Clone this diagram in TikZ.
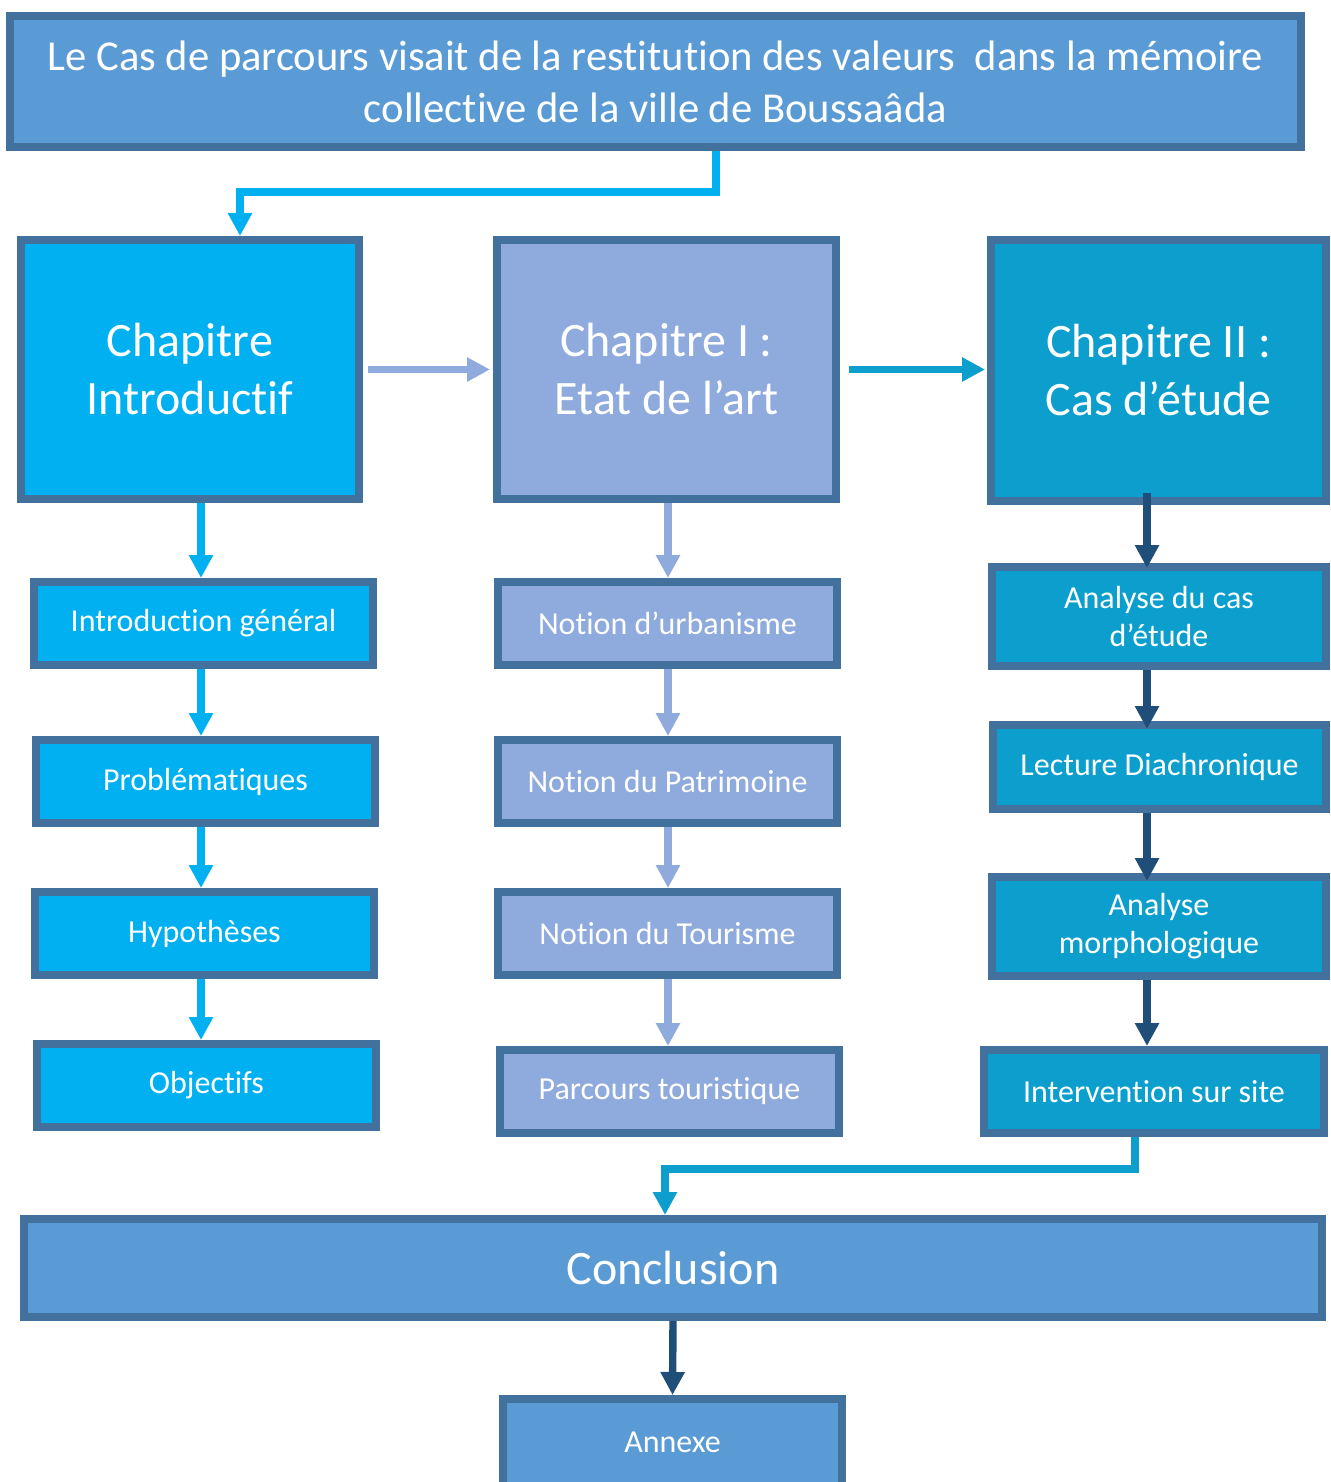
\documentclass[tikz,border=0pt]{standalone}
\usepackage{fontspec}
\setmainfont[Ligatures=CommonOff]{Carlito}
\usetikzlibrary{arrows.meta}
\definecolor{bordc}{HTML}{41719C}
\definecolor{topc}{HTML}{5B9BD5}
\definecolor{introc}{HTML}{00B0F0}
\definecolor{chIc}{HTML}{8FAADC}
\definecolor{chIIc}{HTML}{0C9FCD}
\definecolor{darkc}{HTML}{1F4E79}
\tikzset{
  box/.style={draw=bordc, line width=4pt, text=white, align=center, inner sep=0pt},
  bigtxt/.style={font=\fontsize{24}{29}\selectfont},
  smalltxt/.style={font=\fontsize{16}{19}\selectfont},
  toptxt/.style={font=\fontsize{21.3}{26}\selectfont},
  chapbox/.style={box, bigtxt, minimum width=169pt, minimum height=129.5pt},
  subbox/.style={box, smalltxt, minimum width=169.5pt, minimum height=41.5pt},
  arr/.style={line width=3.7pt, -{Triangle[length=11.5pt,width=11.5pt]}},
}
\begin{document}
\begin{tikzpicture}[x=0.5pt,y=-0.5pt]
\useasboundingbox (0,0) rectangle (1330,1482);
% column guides
\coordinate (colA) at (201,0);
\coordinate (colB) at (668,0);
\coordinate (colC) at (1147,0);
\coordinate (colD) at (1135,0);
\coordinate (colE) at (665,0);
\coordinate (colF) at (716,0);
\coordinate (colG) at (240,0);

% top
\node[box, toptxt, fill=topc, minimum width=645.5pt, minimum height=65.5pt] (top) at (655.5,81.5)
  {Le Cas de parcours visait de la restitution des valeurs\ \ dans la mémoire\\collective de la ville de Boussaâda};

% chapters
\node[chapbox, fill=introc] (intro) at (190,369.5) {Chapitre\\Introductif};
\node[chapbox, fill=chIc, minimum width=169.5pt] (chI) at (666.5,369.5) {Chapitre I :\\Etat de l’art};
\node[chapbox, fill=chIIc, minimum width=167.5pt, minimum height=130.5pt] (chII) at (1158.5,370.5) {Chapitre II :\\Cas d’étude};

% intro column
\node[subbox, fill=introc] (ig) at (203.5,623.5) {Introduction général};
\node[subbox, fill=introc] (prob) at (205.5,781.5) {Problématiques};
\node[subbox, fill=introc] (hyp) at (204.5,933.5) {Hypothèses};
\node[subbox, fill=introc] (obj) at (206.5,1085.5) {Objectifs};

% chapter I column
\node[subbox, fill=chIc] (urb) at (667.5,623.5) {Notion d’urbanisme};
\node[subbox, fill=chIc] (pat) at (667.5,781.5) {Notion du Patrimoine};
\node[subbox, fill=chIc] (tour) at (667.5,933.5) {Notion du Tourisme};
\node[subbox, fill=chIc] (parc) at (669.5,1091.5) {Parcours touristique};

% chapter II column
\node[subbox, fill=chIIc, minimum width=167pt, minimum height=49.5pt] (acas) at (1159,616.5) {Analyse du cas\\d’étude};
\node[subbox, fill=chIIc, minimum width=166.5pt, minimum height=42pt] (lect) at (1159.5,767) {Lecture Diachronique};
\node[subbox, fill=chIIc, minimum width=167pt, minimum height=49.5pt] (morph) at (1159,926.5) {Analyse\\morphologique};
\node[subbox, fill=chIIc, minimum width=170pt, minimum height=41.5pt] (interv) at (1154,1091.5) {Intervention sur site};

% conclusion and annex
\node[box, bigtxt, fill=topc, minimum width=649pt, minimum height=49pt] (concl) at (673,1268) {Conclusion};
\node[subbox, fill=topc, minimum height=43.5pt] (annex) at (672.5,1442.5) {Annexe};

% connectors
\draw[arr, introc] (top.south -| colF) -- ++(0,41) -| (intro.north -| colG);
\draw[arr, chIc, shorten <=2.5pt, shorten >=1.5pt] (intro.east) -- (chI.west);
\draw[arr, chIIc, shorten <=4.5pt, shorten >=1pt] (chI.east) -- (chII.west |- chI.east);

\draw[arr, introc] (intro.south -| colA) -- (ig.north -| colA);
\draw[arr, introc] (ig.south -| colA) -- (prob.north -| colA);
\draw[arr, introc] (prob.south -| colA) -- (hyp.north -| colA);
\draw[arr, introc] (hyp.south -| colA) -- (obj.north -| colA);

\draw[arr, chIc] (chI.south -| colB) -- (urb.north -| colB);
\draw[arr, chIc] (urb.south -| colB) -- (pat.north -| colB);
\draw[arr, chIc] (pat.south -| colB) -- (tour.north -| colB);
\draw[arr, chIc] (tour.south -| colB) -- (parc.north -| colB);

\draw[arr, darkc, shorten <=-6pt, shorten >=-2.5pt] (chII.south -| colC) -- (acas.north -| colC);
\draw[arr, darkc, shorten >=-4pt] (acas.south -| colC) -- (lect.north -| colC);
\draw[arr, darkc, shorten >=-4pt] (lect.south -| colC) -- (morph.north -| colC);
\draw[arr, darkc] (morph.south -| colC) -- (interv.north -| colC);

\draw[arr, chIIc] (interv.south -| colD) -- ++(0,32) -| (concl.north -| colE);
\draw[arr, darkc] (concl.south) -- (annex.north);
\end{tikzpicture}
\end{document}
